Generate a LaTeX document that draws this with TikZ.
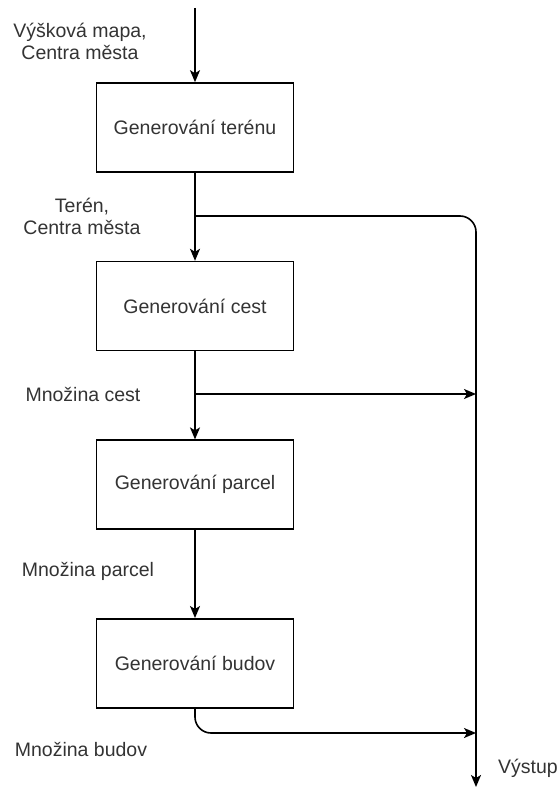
\documentclass[tikz,border=0pt]{standalone}
\usepackage{fontspec}
\setmainfont{Liberation Sans}
\usetikzlibrary{positioning,calc,arrows.meta}
\definecolor{textgray}{HTML}{333333}

\begin{document}
\begin{tikzpicture}[
    x=1pt, y=-1pt,
    node distance=88pt,
    font=\fontsize{19.5}{22}\selectfont,
    line width=1.6pt,
    stepbox/.style={rectangle, draw, text=textgray, minimum width=197pt, minimum height=89pt},
    lbl/.style={align=center, text=textgray},
    arr/.style={-{Stealth[length=12pt,width=10pt,inset=3pt]}}
]
    \useasboundingbox (0,0) rectangle (557,789);

    % Boxes
    \node[stepbox] (teren) at (195,127.5) {Generování terénu};
    \node[stepbox, below=of teren] (cesty) {Generování cest};
    \node[stepbox, below=of cesty] (parcely) {Generování parcel};
    \node[stepbox, below=of parcely] (budovy) {Generování budov};

    % Junctions and ends
    \coordinate (vstup) at (195,8);
    \coordinate (j1) at (195,216);
    \coordinate (j2) at (195,394);
    \coordinate (vystup) at (476,787);
    \coordinate (j4) at (476,733);

    % Labels
    \node[lbl] (l0) at (80,41) {Výšková mapa,\\Centra města};
    \node[lbl] (l1) at (82,216) {Terén,\\Centra města};
    \node[lbl] (l2) at (83,394) {Množina cest};
    \node[lbl] (l3) at (88,571) {Množina parcel};
    \node[lbl] (l4) at (81,749) {Množina budov};
    \node[lbl, right] (l5) at (494,768) {Výstup};

    % Main flow
    \draw[arr] (vstup) -- (teren);
    \draw[arr] (teren) -- (cesty);
    \draw[arr] (cesty) -- (parcely);
    \draw[arr] (parcely) -- (budovy);

    % Output line
    \draw[arr, rounded corners=16pt] (j1) -- (j1 -| vystup) -- (vystup);
    \draw[arr] (j2) -- (j2 -| vystup);
    \draw[arr, rounded corners=16pt] (budovy.south) |- (j4);
\end{tikzpicture}
\end{document}
